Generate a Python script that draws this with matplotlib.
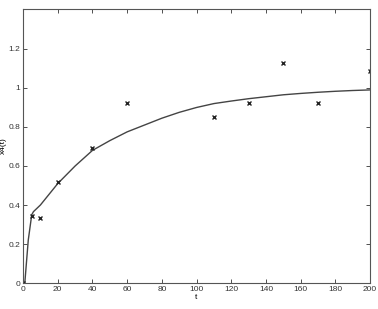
import matplotlib
matplotlib.use("Agg")
import matplotlib.pyplot as plt

# measured samples (markers)
t_meas = [0, 5, 10, 20, 40, 60, 110, 130, 150, 170, 200]
x_meas = [0.0, 0.345, 0.335, 0.52, 0.69, 0.925, 0.85, 0.925, 1.13, 0.925, 1.085]

# model curve
t_fit = [0, 1, 3, 5, 6, 10, 20, 30, 40, 50, 60, 70, 80, 90, 100, 110, 120,
         130, 140, 150, 160, 170, 180, 190, 200]
x_fit = [0.0, 0.0, 0.22, 0.35, 0.366, 0.40, 0.51, 0.60, 0.68, 0.73, 0.775,
         0.81, 0.845, 0.875, 0.90, 0.92, 0.933, 0.945, 0.955, 0.965, 0.972,
         0.978, 0.983, 0.987, 0.99]

x_ticks = list(range(0, 201, 20))
y_ticks = [0, 0.2, 0.4, 0.6, 0.8, 1, 1.2]
y_labels = ["0", "0.2", "0.4", "0.6", "0.8", "1", "1.2"]

plt.rcParams["font.family"] = ["Liberation Sans", "DejaVu Sans"]

fig = plt.figure(figsize=(3.78, 3.09), dpi=100)
ax = fig.add_axes([0.061, 0.084, 0.918, 0.887])

ax.plot(t_fit, x_fit, color="#444444", linewidth=1.0)
ax.plot(t_meas, x_meas, linestyle="none", marker="x", markersize=2.5,
        markeredgewidth=1.0, color="#222222")

ax.set_xlim(0, 200)
ax.set_ylim(0, 1.405)
ax.set_xticks(x_ticks)
ax.set_yticks(y_ticks)
ax.set_yticklabels(y_labels)
ax.tick_params(direction="in", length=3, width=0.6, labelsize=6,
               top=True, right=True, pad=2, colors="#333333")
for s in ax.spines.values():
    s.set_linewidth(0.8)
    s.set_color("#555555")

ax.set_xlabel("t", fontsize=6, labelpad=1)
ax.set_ylabel("x4(t)", fontsize=6, labelpad=1)

fig.savefig("out.png", dpi=100)
